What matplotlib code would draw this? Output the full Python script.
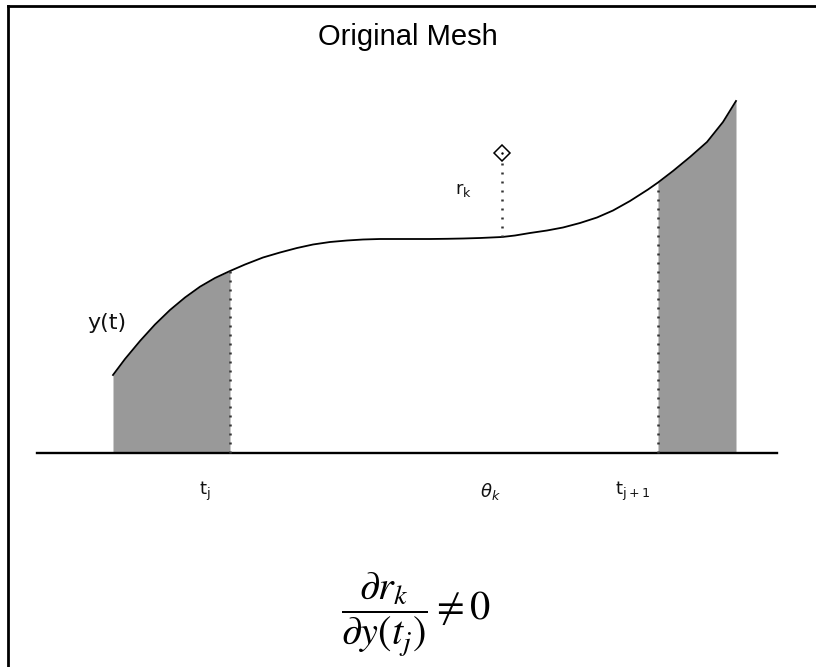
import numpy as np
import matplotlib.pyplot as plt
from matplotlib.lines import Line2D

# curve y(t) (x in px from left, height in px above the axis)
t_vals = [113, 125, 140, 155, 170, 185, 200, 215, 230, 245, 263, 280, 297,
          313, 330, 347, 363, 380, 397, 413, 430, 447, 463, 480, 502, 515,
          530, 547, 563, 580, 597, 613, 630, 648, 658, 673, 690, 707, 723, 736]
y_vals = [78, 94, 112, 128.5, 143, 155.5, 166.3, 175, 182, 188.5, 195.5, 200.5,
          205, 208.5, 211, 212.5, 213.5, 214, 214, 214, 214, 214.2, 214.5, 215,
          216, 217.5, 220, 222.5, 225.5, 230, 235.5, 242.5, 252, 263.5, 270.5,
          282, 296, 311, 331, 352]

t_j = 230
t_j1 = 658
theta_k = 502
r_k = 300          # height of the data point r_k above the axis
axis_range = (37, 777)

t = np.array(t_vals)
y = np.array(y_vals, dtype=float)

fig = plt.figure(figsize=(8.16, 6.67), dpi=100)
ax = fig.add_axes([0, 0, 1, 1])
ax.set_xlim(0, 816)
ax.set_ylim(453 - 667, 453)
ax.axis('off')

# shaded pieces at both ends
left = t <= t_j
right = t >= t_j1
ax.fill_between(t[left], 0, y[left], color='#999999', lw=0)
ax.fill_between(t[right], 0, y[right], color='#999999', lw=0)

# the curve and the axis
ax.plot(t, y, color='black', lw=1.3, solid_joinstyle='round')
ax.plot(axis_range, [0, 0], color='black', lw=1.7)

# dotted verticals
dot = dict(color='#333333', lw=1.8, linestyle=(0, (0.8, 2.8)))
ax.plot([t_j, t_j], [0, y[t == t_j][0]], **dot)
ax.plot([t_j1, t_j1], [0, y[t == t_j1][0]], **dot)
ax.plot([theta_k, theta_k], [y[t == theta_k][0], r_k - 7], **dot)
ax.plot([theta_k], [r_k], marker='D', ms=8, mfc='white', mec='black', mew=1.1)
ax.plot([theta_k], [r_k], marker='.', ms=1.5, color='black')

# labels
lab = dict(fontsize=13, family='DejaVu Sans', color='#111111', math_fontfamily='dejavusans')
ax.text(107, 453 - 323, 'y(t)', ha='center', va='center', fontsize=16,
        family='DejaVu Sans', color='#111111')
ax.text(463, 453 - 190, r'$\mathregular{r_k}$', ha='center', va='center', **lab)
ax.text(205, 453 - 491, r'$\mathregular{t_j}$', ha='center', va='center', **lab)
ax.text(490, 453 - 491, r'$\theta_k$', ha='center', va='center', **lab)
ax.text(633, 453 - 491, r'$\mathregular{t_{j+1}}$', ha='center', va='center', **lab)

ax.text(408, 453 - 37, 'Original Mesh', ha='center', va='center', fontsize=21,
        family='Liberation Sans')
ax.text(416, 453 - 615, r'$\dfrac{\partial r_k}{\partial y(t_j)} \neq 0$',
        ha='center', va='center', fontsize=29, math_fontfamily='stix')

# frame: only the top and left edges are in view
fig.add_artist(Line2D([8 / 816, 8 / 816], [0, 1 - 6 / 667], color='black', lw=2,
                      transform=fig.transFigure))
fig.add_artist(Line2D([8 / 816, 1], [1 - 6 / 667, 1 - 6 / 667], color='black', lw=2,
                      transform=fig.transFigure))

fig.savefig('out.png', dpi=100)
